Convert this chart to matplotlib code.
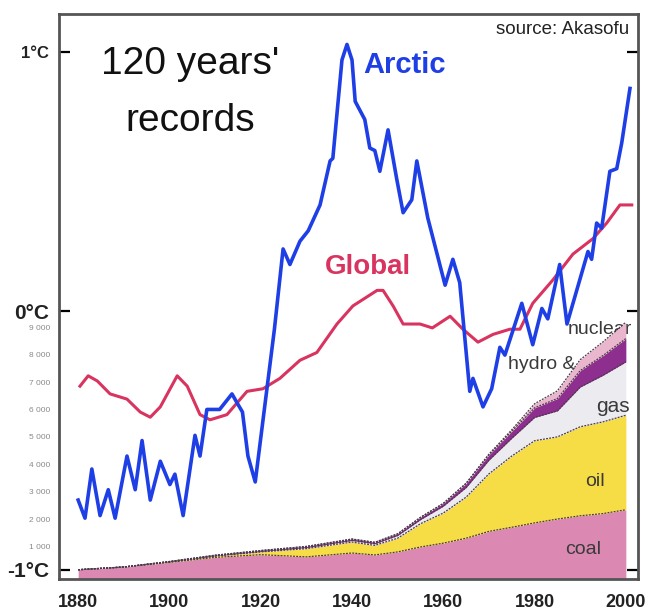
#!/usr/bin/python3

import matplotlib
matplotlib.use("Agg")
import matplotlib.pyplot as plt
import numpy as np

#temperature records, deg C relative to the reference level
arctic_yr = [1880, 1881.5, 1883, 1884.8, 1886.6, 1888.1, 1890.7, 1892.5, 1894, 1895.8,
             1898, 1900.1, 1901.2, 1903, 1905.6, 1906.7, 1908.2, 1909.5, 1911, 1913.7,
             1915, 1916, 1917.2, 1918.8, 1923, 1924.9, 1926.4, 1928.6, 1930.4, 1933,
             1935.2, 1935.8, 1937.8, 1938.9, 1940, 1940.7, 1942.8, 1943.9, 1945, 1946.1,
             1947.9, 1949.8, 1951.2, 1953.1, 1954.2, 1956.6, 1960.4, 1962.1, 1963.6, 1965.8,
             1966.5, 1968.7, 1970.6, 1972.4, 1973.5, 1977.2, 1979.6, 1981.6, 1982.9, 1985.5,
             1987.1, 1991.7, 1992.5, 1993.6, 1994.7, 1996.5, 1998, 1999.1, 2000.9]
arctic_val = [-0.73, -0.80, -0.61, -0.79, -0.69, -0.80, -0.56, -0.69, -0.50, -0.73,
              -0.58, -0.67, -0.63, -0.79, -0.48, -0.56, -0.38, -0.38, -0.38, -0.32,
              -0.36, -0.39, -0.56, -0.66, -0.07, 0.24, 0.18, 0.27, 0.31, 0.41,
              0.58, 0.59, 0.97, 1.03, 0.97, 0.81, 0.74, 0.63, 0.62, 0.54,
              0.70, 0.51, 0.38, 0.43, 0.58, 0.36, 0.10, 0.20, 0.11, -0.31,
              -0.26, -0.37, -0.30, -0.14, -0.17, 0.03, -0.13, 0.01, -0.03, 0.18,
              -0.05, 0.23, 0.20, 0.34, 0.32, 0.54, 0.55, 0.65, 0.86]

global_yr = [1880.4, 1882.2, 1884.2, 1887, 1890.7, 1893.6, 1895.8, 1898, 1901.7, 1903.9,
             1906.7, 1908.9, 1912.6, 1917, 1920.5, 1924.2, 1928.6, 1932.3, 1936.7, 1940.2,
             1945.5, 1946.8, 1949, 1951.2, 1954.9, 1957.6, 1961.5, 1964.3, 1967.6, 1970.9,
             1974.6, 1976.8, 1979.6, 1984, 1988.4, 1992.8, 1995.8, 1998.7, 2001.3]
global_val = [-0.29, -0.25, -0.27, -0.32, -0.34, -0.39, -0.41, -0.37, -0.25, -0.29,
              -0.40, -0.42, -0.40, -0.31, -0.30, -0.26, -0.19, -0.16, -0.05, 0.02,
              0.08, 0.08, 0.02, -0.05, -0.05, -0.065, -0.02, -0.07, -0.12, -0.09,
              -0.07, -0.07, 0.03, 0.12, 0.22, 0.28, 0.34, 0.41, 0.41]

#world energy consumption by source (Mtoe)
en_yr = [1880, 1890, 1900, 1910, 1920, 1930, 1940, 1945, 1950, 1955,
         1960, 1965, 1970, 1975, 1980, 1985, 1990, 1995, 2000]
coal = [150, 250, 420, 600, 700, 620, 760, 690, 800, 980,
        1120, 1300, 1550, 1700, 1860, 2000, 2120, 2200, 2340]
oil = [0, 0, 20, 50, 100, 300, 400, 350, 500, 850,
       1100, 1500, 2100, 2600, 3000, 3000, 3250, 3350, 3450]
gas = [0, 0, 0, 10, 20, 40, 60, 60, 100, 150,
       250, 350, 500, 650, 850, 950, 1450, 1700, 1950]
hydro = [0, 0, 10, 20, 30, 40, 50, 50, 60, 80,
         100, 150, 200, 250, 350, 450, 600, 720, 850]
nuclear = [0, 0, 0, 0, 0, 0, 0, 0, 0, 0,
           0, 10, 20, 60, 150, 280, 400, 500, 600]

en_ticks = [1000, 2000, 3000, 4000, 5000, 6000, 7000, 8000, 9000]

year_ticks = [1880, 1900, 1920, 1940, 1960, 1980, 2000]
temp_ticks = [-1, 0, 1]
temp_labels = ["-1°C", "0°C", "1°C"]

#energy to temperature axis scale
ekoef = 0.1058e-3
ezero = -1.015

#_____________________________________________________________________________
def main():

    plt.rcParams["font.family"] = ["Liberation Sans", "DejaVu Sans"]

    fig = plt.figure(figsize=(6.51, 6.15), dpi=100)
    ax = fig.add_axes([0.0906, 0.0585, 0.889, 0.9185])

    xmin, xmax = 1875.8, 2002.6
    ymin, ymax = -1.035, 1.147

    #energy stack
    cols = ["#db88b3", "#f6dc45", "#ececf0", "#8e2e8e", "#e9b6cd"]
    layers = [coal, oil, gas, hydro, nuclear]
    cum = np.zeros(len(en_yr))
    for i in range(len(layers)):
        low = e2c(cum)
        if i == 0:
            low = np.full(len(en_yr), ymin)
        cum = cum + np.array(layers[i])
        ax.fill_between(en_yr, low, e2c(cum), color=cols[i], lw=0, zorder=2)
        ax.plot(en_yr, e2c(cum), color="#4a3a4a", lw=0.9, ls=(0, (1.5, 1)), zorder=2.1)

    #source names, the last two sit below the bands
    txcol = "#3a3a3a"
    ax.text(1986.6, -0.92, "coal", fontsize=14, color=txcol, ha="left", va="center", zorder=3)
    ax.text(1991.0, -0.66, "oil", fontsize=14, color=txcol, ha="left", va="center", zorder=3)
    ax.text(1993.4, -0.37, "gas", fontsize=15, color=txcol, ha="left", va="center", zorder=3)
    ax.text(1974.2, -0.205, "hydro & ren", fontsize=14, color=txcol, ha="left",
            va="center", zorder=1.5)
    ax.text(1987.3, -0.07, "nuclear", fontsize=14, color=txcol, ha="left",
            va="center", zorder=1.5)

    #temperature curves
    ax.plot(global_yr, global_val, color="#d8345f", lw=2.2, zorder=4, solid_joinstyle="round")
    ax.plot(arctic_yr, arctic_val, color="#1f3fe6", lw=2.6, zorder=5, solid_joinstyle="round")

    ax.text(1942.4, 0.95, "Arctic", fontsize=21, fontweight="bold", color="#1f3fe6",
            ha="left", va="center")
    ax.text(1934.1, 0.17, "Global", fontsize=20, fontweight="bold", color="#d8345f",
            ha="left", va="center")

    ax.text(1904.5, 0.955, "120 years'", fontsize=28, color="#111111", ha="center", va="center")
    ax.text(1904.5, 0.735, "records", fontsize=28, color="#111111", ha="center", va="center")
    ax.text(0.985, 0.988, "source: Akasofu", transform=ax.transAxes, fontsize=13.5,
            color="#222222", ha="right", va="top")

    ax.set_xlim(xmin, xmax)
    ax.set_ylim(ymin, ymax)

    #axes
    ax.set_xticks(year_ticks)
    ax.set_xticklabels([str(y) for y in year_ticks], fontsize=13, fontweight="bold", color="#222222")
    ax.set_xticks(np.arange(1880, 2001, 2), minor=True)
    ax.tick_params(axis="x", which="major", length=0, pad=11)
    ax.tick_params(axis="x", which="minor", direction="in", length=4, width=0.8, color="#777777")

    ax.set_yticks(temp_ticks)
    ax.set_yticklabels(temp_labels, fontweight="bold", color="#222222")
    ax.tick_params(axis="y", which="major", direction="in", length=8, width=1.6,
                   right=True, pad=7, labelsize=15)
    ax.get_yticklabels()[2].set_fontsize(12)

    for sp in ax.spines.values():
        sp.set_color("#555555")
        sp.set_linewidth(2)

    sec = ax.secondary_yaxis("left", functions=(c2e, e2c))
    sec.set_yticks(en_ticks)
    sec.set_yticklabels([f"{v:,}".replace(",", " ") for v in en_ticks])
    sec.tick_params(length=0, pad=6, labelsize=6, labelcolor="#8a8a8a")
    sec.spines["left"].set_visible(False)

    fig.savefig("out.png", dpi=100)
    plt.close()

#main

#_____________________________________________________________________________
def e2c(e):

    return np.asarray(e)*ekoef + ezero

#e2c

#_____________________________________________________________________________
def c2e(c):

    return (np.asarray(c) - ezero)/ekoef

#c2e

#_____________________________________________________________________________
if __name__ == "__main__":

    main()
